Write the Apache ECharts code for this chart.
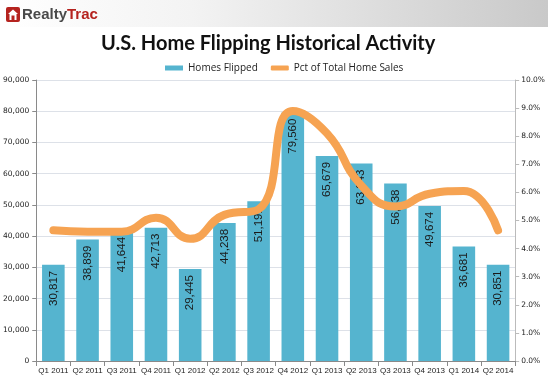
<!DOCTYPE html>
<html><head><meta charset="utf-8">
<script src="https://cdn.jsdelivr.net/npm/echarts@6/dist/echarts.min.js"></script>
<style>html,body{margin:0;padding:0;background:#fff}#c{width:548px;height:385px}</style>
</head><body><div id="c"></div>
<script>
const categories = ['Q1 2011','Q2 2011','Q3 2011','Q4 2011','Q1 2012','Q2 2012','Q3 2012','Q4 2012','Q1 2013','Q2 2013','Q3 2013','Q4 2013','Q1 2014','Q2 2014'];
const homesFlipped = [30817,38899,41644,42713,29445,44238,51191,79560,65679,63243,56838,49674,36681,30851];
const pctOfSales = [4.65,4.6,4.6,5.1,4.35,5.2,5.4,8.9,8.1,6.25,5.5,5.95,6.05,4.65];
const leftTicks = {min:0,max:90000,interval:10000};
const rightTicks = {min:0,max:10,interval:1};

const chart = echarts.init(document.getElementById('c'));
const axisFont = 'DejaVu Sans';
const logoFont = '"Liberation Sans Narrow", "Liberation Sans"';
chart.setOption({
  animation:false,
  graphic:[
    {type:'rect',shape:{x:0,y:0,width:548,height:27},z:-1,
     style:{fill:new echarts.graphic.LinearGradient(0,0,1,0,[{offset:0,color:'#ffffff'},{offset:0.35,color:'#f3f3f3'},{offset:1,color:'#c9c9c9'}])}},
    {type:'rect',shape:{x:6,y:7,width:14,height:15,r:2},style:{fill:'#b5231f'}},
    {type:'polygon',shape:{points:[[13,9.5],[8,14],[9.5,14],[9.5,20],[16.5,20],[16.5,14],[18,14]]},style:{fill:'#ffffff'}},
    {type:'rect',shape:{x:11.5,y:15.5,width:3,height:4.5},style:{fill:'#b5231f'}},
    {type:'text',left:22,top:7,style:{text:'{a|Realty}{b|Trac}',rich:{a:{fontFamily:logoFont,fontWeight:'bold',fontSize:15,fill:'#4a4a4a'},b:{fontFamily:logoFont,fontWeight:'bold',fontSize:15,fill:'#b5231f'}}}}
  ],
  title:{text:'U.S. Home Flipping Historical Activity',left:96,top:29,
    textStyle:{fontFamily:'Lato',fontWeight:'bold',fontSize:20,color:'#111'}},
  legend:{top:58,left:160,itemGap:13,itemWidth:18,itemHeight:5,
    textStyle:{fontFamily:'Open Sans',fontSize:10,color:'#222'},
    data:[{name:'Homes Flipped',icon:'rect'},{name:'Pct of Total Home Sales',icon:'roundRect'}]},
  grid:{left:35,right:30,top:80,bottom:24,containLabel:false},
  xAxis:{type:'category',data:categories,
    axisLine:{lineStyle:{color:'#8a8a8a'}},
    axisTick:{show:true,alignWithLabel:false,lineStyle:{color:'#8a8a8a'}},
    axisLabel:{fontFamily:'Liberation Sans',fontSize:8,color:'#222',margin:6,interval:0}},
  yAxis:[
    {type:'value',min:leftTicks.min,max:leftTicks.max,interval:leftTicks.interval,
     axisLine:{show:true,lineStyle:{color:'#8a8a8a'}},
     axisTick:{show:true,length:4,lineStyle:{color:'#8a8a8a'}},
     splitLine:{lineStyle:{color:'#dde1e8',width:1}},
     axisLabel:{fontFamily:axisFont,fontSize:7.5,color:'#222',margin:7,
       formatter:v=>v.toLocaleString('en-US')}},
    {type:'value',min:rightTicks.min,max:rightTicks.max,interval:rightTicks.interval,
     axisLine:{show:true,lineStyle:{color:'#bbbbbb'}},
     axisTick:{show:true,length:4,lineStyle:{color:'#bbbbbb'}},
     splitLine:{show:false},
     axisLabel:{fontFamily:axisFont,fontSize:7.5,color:'#222',margin:6,
       formatter:v=>v.toFixed(1)+'%'}}
  ],
  series:[
    {name:'Homes Flipped',type:'bar',data:homesFlipped,barCategoryGap:'34%',
     itemStyle:{color:'#55b4cf'},
     label:{show:true,position:'insideTop',rotate:90,align:'right',verticalAlign:'middle',distance:6,
       fontFamily:'Liberation Sans',fontSize:11.5,color:'#1a1a1a',
       formatter:p=>p.value.toLocaleString('en-US')}},
    {name:'Pct of Total Home Sales',type:'line',yAxisIndex:1,data:pctOfSales,smooth:0.5,
     symbol:'none',lineStyle:{color:'#f6a352',width:8,cap:'round',join:'round'},
     itemStyle:{color:'#f6a352'},z:5}
  ]
});
</script></body></html>
